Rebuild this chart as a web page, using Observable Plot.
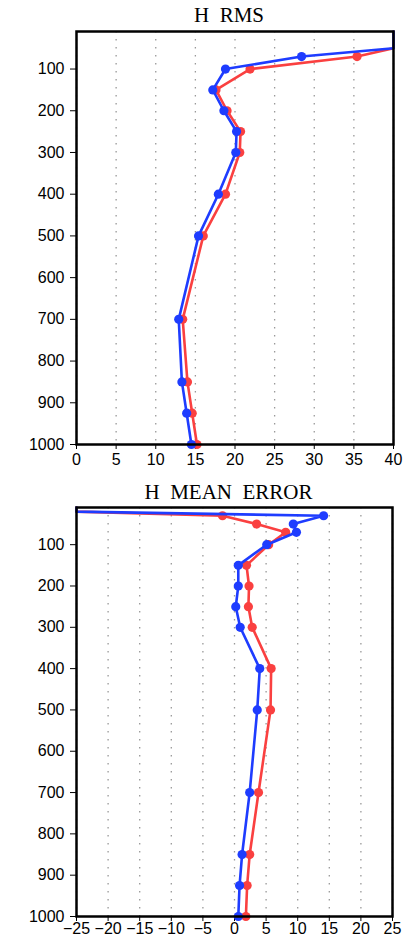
<!DOCTYPE html>
<html><head><meta charset="utf-8">
<script src="https://cdn.jsdelivr.net/npm/d3@7"></script>
<script src="https://cdn.jsdelivr.net/npm/@observablehq/plot@0.6"></script>
<style>body{margin:0;background:#fff}svg{display:block}#c{width:406px}</style>
</head><body><div id="c"></div>
<script>
// pressure levels (hPa)
const levels = [10, 20, 30, 50, 70, 100, 150, 200, 250, 300, 400, 500, 700, 850, 925, 1000];
// H RMS
const rmsBlue = [60, 52, 46, 41, 28.4, 18.8, 17.2, 18.6, 20.2, 20.1, 17.9, 15.4, 12.9, 13.3, 13.9, 14.5];
const rmsRed  = [62, 55, 50, 46, 35.4, 21.9, 17.6, 19.0, 20.7, 20.6, 18.8, 16.0, 13.4, 14.0, 14.6, 15.2];
// H MEAN ERROR
const meBlue = [-40, -27, 14.1, 9.3, 9.8, 5.1, 0.6, 0.6, 0.2, 0.9, 4.0, 3.6, 2.4, 1.2, 0.8, 0.6];
const meRed  = [-50, -36, -1.9, 3.5, 8.1, 5.4, 1.9, 2.3, 2.2, 2.8, 5.8, 5.7, 3.8, 2.4, 2.0, 1.8];
// tick labels
const yTicks = [100, 200, 300, 400, 500, 600, 700, 800, 900, 1000];
const rmsTicks = [0, 5, 10, 15, 20, 25, 30, 35, 40];
const meTicks = [-25, -20, -15, -10, -5, 0, 5, 10, 15, 20, 25];
const titles = ["H\u00a0\u00a0RMS", "H\u00a0\u00a0MEAN\u00a0\u00a0ERROR"];

const BLUE = "#1e3cff", RED = "#fa4040";
const fmt = d => d < 0 ? "\u2212" + (-d) : String(d);

function panel({title, blue, red, xDomain, xTicks, height, marginTop, marginBottom, marginRight, titleDy, tickPadX}) {
  const bd = levels.map((p, i) => ({p, v: blue[i]}));
  const rd = levels.map((p, i) => ({p, v: red[i]}));
  const inside = d => d.v >= xDomain[0] && d.v <= xDomain[1];
  return Plot.plot({
    width: 406, height, marginLeft: 76, marginRight, marginTop, marginBottom,
    style: {fontFamily: "Liberation Sans, Arial, sans-serif", fontSize: "16px", color: "#000", background: "#fff"},
    x: {domain: xDomain, clamp: true, ticks: xTicks, tickSize: 5, tickPadding: tickPadX, tickFormat: fmt, label: null},
    y: {domain: [10, 1000], reverse: true, ticks: yTicks, tickSize: 6, tickPadding: 6, tickFormat: fmt, label: null},
    marks: [
      Plot.ruleX(xTicks, {stroke: "#999", strokeWidth: 1.3, strokeDasharray: "1.5,6.5"}),
      Plot.line(rd, {x: "v", y: "p", stroke: RED, strokeWidth: 2.6}),
      Plot.dot(rd, {filter: inside, x: "v", y: "p", r: 4.6, fill: RED, stroke: "none"}),
      Plot.line(bd, {x: "v", y: "p", stroke: BLUE, strokeWidth: 2.6}),
      Plot.dot(bd, {filter: inside, x: "v", y: "p", r: 4.6, fill: BLUE, stroke: "none"}),
      Plot.frame({stroke: "#000", strokeWidth: 2.5}),
      Plot.text([title], {frameAnchor: "top", lineAnchor: "middle", dy: titleDy, dx: -6,
        fontFamily: "Liberation Serif, Times New Roman, serif", fontSize: 21, letterSpacing: 1.8, fill: "#000"})
    ]
  });
}

const c = document.getElementById("c");
c.append(panel({title: titles[0], blue: rmsBlue, red: rmsRed, xDomain: [0, 40], xTicks: rmsTicks,
  height: 470, marginTop: 31, marginBottom: 26, marginRight: 13, titleDy: -16, tickPadX: 4}));
c.append(panel({title: titles[1], blue: meBlue, red: meRed, xDomain: [-25, 25], xTicks: meTicks,
  height: 468, marginTop: 37, marginBottom: 22, marginRight: 14, titleDy: -15.5, tickPadX: 1}));
</script></body></html>
